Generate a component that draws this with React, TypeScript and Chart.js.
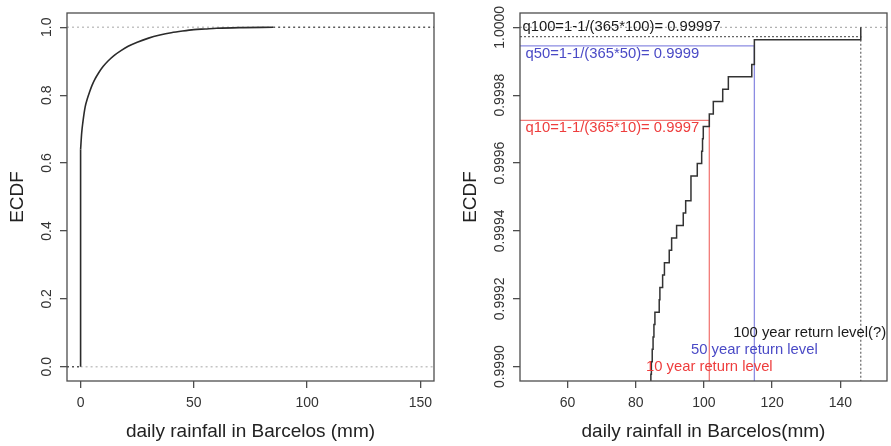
import React, { useEffect, useRef } from "react";
import { Chart, registerables } from "chart.js";
Chart.register(...registerables);

// ---------- Left panel: ECDF of all daily rainfall (mm) ----------
const leftRain = [0, 0.5, 1, 2, 3, 4, 5, 6, 8, 10, 12, 15, 18, 21, 25, 30, 35, 40, 45, 50, 55, 60, 70, 85];
const leftEcdf = [0.64, 0.69, 0.72, 0.765, 0.79, 0.81, 0.828, 0.843, 0.866, 0.885, 0.9, 0.918, 0.932, 0.944, 0.956, 0.968, 0.977, 0.984, 0.989, 0.993, 0.995, 0.997, 0.999, 1.0];
const leftXTicks = [0, 50, 100, 150];
const leftYTicks = [0, 0.2, 0.4, 0.6, 0.8, 1.0];
const leftYTickLabels = ["0.0", "0.2", "0.4", "0.6", "0.8", "1.0"];
const leftXTitle = "daily rainfall in Barcelos (mm)";

// ---------- Right panel: upper tail of the ECDF ----------
const nDays = 27400;
const extremes = [146.0, 114.8, 114.8, 114.04, 107.17, 105.52, 102.76, 101.59, 99.82, 99.6, 99.35, 98.06, 96.21, 96.21, 94.66, 93.95, 92.0, 90.54, 89.84, 88.43, 87.9, 87.1, 86.9, 85.64, 85.35, 85.1, 84.85, 84.6, 84.45];
const returnPeriods = [10, 50, 100];
const rightXTicks = [60, 80, 100, 120, 140];
const rightYTicks = [0.999, 0.9992, 0.9994, 0.9996, 0.9998, 1.0];
const rightYTickLabels = ["0.9990", "0.9992", "0.9994", "0.9996", "0.9998", "1.0000"];
const rightXTitle = "daily rainfall in Barcelos(mm)";
const qLabels = ["q10=1-1/(365*10)= 0.9997", "q50=1-1/(365*50)= 0.9999", "q100=1-1/(365*100)= 0.99997"];
const rlLabels = ["10 year return level", "50 year return level", "100 year return level(?)"];

const FONT = "'Liberation Sans', Arial, Helvetica, sans-serif";
const RED = "#ee3d3d";
const BLUE = "#4a4ac6";
const RED_LINE = "#f27b78";
const BLUE_LINE = "#8c8ce2";

const ecdfAt = (x: number) => 1 - extremes.filter((o) => o > x).length / nDays;
const quantile = (p: number) => {
  const xs = [...new Set(extremes)].sort((a, b) => a - b);
  return xs.find((x) => ecdfAt(x) >= p) as number;
};

type Note = { text: string; x: number; y: number; color: string; align: CanvasTextAlign };

function framePlugin(yTicks: number[], yLabels: string[], notes: Note[]) {
  return {
    id: "frame",
    afterDraw(chart: any) {
      const { ctx, chartArea: a } = chart;
      const xs = chart.scales.x;
      const ys = chart.scales.y;
      ctx.save();
      ctx.strokeStyle = "#4d4d4d";
      ctx.lineWidth = 1.3;
      ctx.strokeRect(a.left, a.top, a.right - a.left, a.bottom - a.top);
      ctx.fillStyle = "#333";
      ctx.font = `14px ${FONT}`;
      ctx.textAlign = "center";
      ctx.textBaseline = "middle";
      yTicks.forEach((v, i) => {
        const py = ys.getPixelForValue(v);
        ctx.save();
        ctx.translate(a.left - 20, py);
        ctx.rotate(-Math.PI / 2);
        ctx.fillText(yLabels[i], 0, 0);
        ctx.restore();
      });
      ctx.font = `14.8px ${FONT}`;
      notes.forEach((n) => {
        ctx.fillStyle = n.color;
        ctx.textAlign = n.align;
        ctx.fillText(n.text, xs.getPixelForValue(n.x), ys.getPixelForValue(n.y));
      });
      ctx.restore();
    },
  };
}

function axes(opts: {
  xMin: number; xMax: number; yMin: number; yMax: number;
  xTicks: number[]; yTicks: number[]; xTitle: string; yAxisWidth: number; yTitlePad: number;
}) {
  const grid = { drawOnChartArea: false, drawTicks: true, tickLength: 7, color: "#4d4d4d", lineWidth: 1.3 };
  return {
    x: {
      type: "linear",
      min: opts.xMin,
      max: opts.xMax,
      afterBuildTicks: (s: any) => { s.ticks = opts.xTicks.map((v) => ({ value: v })); },
      afterFit: (s: any) => { s.height = 65; },
      grid,
      border: { display: false },
      ticks: { color: "#333", font: { family: FONT, size: 14 }, padding: 7, maxRotation: 0, autoSkip: false, callback: (v: any) => String(v) },
      title: { display: true, text: opts.xTitle, color: "#222", font: { family: FONT, size: 19, lineHeight: 1 }, padding: { top: 0, bottom: 5 } },
    },
    y: {
      type: "linear",
      min: opts.yMin,
      max: opts.yMax,
      afterBuildTicks: (s: any) => { s.ticks = opts.yTicks.map((v) => ({ value: v })); },
      afterFit: (s: any) => { s.width = opts.yAxisWidth; },
      grid,
      border: { display: false },
      ticks: { display: false },
      title: { display: true, text: "ECDF", color: "#222", font: { family: FONT, size: 19, lineHeight: 1 }, padding: { top: opts.yTitlePad, bottom: 0 } },
    },
  };
}

const line = (data: { x: number; y: number }[], color: string, width: number, dash: number[] = [], extra: any = {}) => ({
  data, showLine: true, borderColor: color, borderWidth: width, borderDash: dash, pointRadius: 0, fill: false, ...extra,
});

export default function App() {
  const leftRef = useRef<HTMLCanvasElement>(null);
  const rightRef = useRef<HTMLCanvasElement>(null);

  useEffect(() => {
    document.body.style.margin = "0";
    // Left chart
    const lxMin = -6, lxMax = 156, lyMin = -0.042, lyMax = 1.042;
    const lastRain = leftRain[leftRain.length - 1];
    const left = new Chart(leftRef.current as HTMLCanvasElement, {
      type: "scatter",
      data: {
        datasets: [
          line(leftRain.map((x, i) => ({ x, y: leftEcdf[i] })), "#2b2b2b", 1.6, [], { cubicInterpolationMode: "monotone" }),
          line([{ x: 0, y: 0 }, { x: 0, y: leftEcdf[0] }], "#2b2b2b", 1.6),
          line([{ x: lxMin, y: 0 }, { x: 0, y: 0 }], "#555", 1.5, [2, 3]),
          line([{ x: lastRain, y: 1 }, { x: lxMax, y: 1 }], "#5a5a5a", 1.5, [2, 3]),
          line([{ x: 0, y: 0 }, { x: lxMax, y: 0 }], "#c4c4c4", 1.3, [2, 3]),
          line([{ x: lxMin, y: 1 }, { x: lastRain, y: 1 }], "#c4c4c4", 1.3, [2, 3]),
        ] as any,
      },
      options: {
        animation: false,
        responsive: false,
        devicePixelRatio: 1,
        layout: { padding: { top: 13, right: 11, left: 0, bottom: 0 } },
        plugins: { legend: { display: false }, tooltip: { enabled: false } },
        scales: axes({ xMin: lxMin, xMax: lxMax, yMin: lyMin, yMax: lyMax, xTicks: leftXTicks, yTicks: leftYTicks, xTitle: leftXTitle, yAxisWidth: 67, yTitlePad: 8.5 }) as any,
      },
      plugins: [framePlugin(leftYTicks, leftYTickLabels, [])],
    });

    // Right chart
    const rxMin = 46.08, rxMax = 153.69, ryMin = 0.9989579, ryMax = 1.0000421;
    const uniq = [...new Set(extremes)].sort((a, b) => a - b);
    const stepData = [
      { x: uniq[0], y: 1 - extremes.filter((o) => o >= uniq[0]).length / nDays },
      ...uniq.map((x) => ({ x, y: ecdfAt(x) })),
    ];
    const probs = returnPeriods.map((T) => 1 - 1 / (365 * T));
    const levels = probs.map(quantile);
    const qLine = (i: number) => [
      { x: rxMin, y: probs[i] },
      { x: levels[i], y: probs[i] },
      { x: levels[i], y: ryMin },
    ];
    const notes: Note[] = [
      { text: qLabels[2], x: 46.8, y: 1.0000025, color: "#1a1a1a", align: "left" },
      { text: qLabels[1], x: 47.7, y: 0.999922, color: BLUE, align: "left" },
      { text: qLabels[0], x: 47.7, y: 0.999703, color: RED, align: "left" },
      { text: rlLabels[2], x: 131, y: 0.9991, color: "#1a1a1a", align: "center" },
      { text: rlLabels[1], x: levels[1], y: 0.99905, color: BLUE, align: "center" },
      { text: rlLabels[0], x: levels[0], y: 0.999, color: RED, align: "center" },
    ];
    const right = new Chart(rightRef.current as HTMLCanvasElement, {
      type: "scatter",
      data: {
        datasets: [
          line(stepData, "#333", 1.5, [], { stepped: true }),
          line(qLine(0), RED_LINE, 1.3),
          line(qLine(1), BLUE_LINE, 1.3),
          line(qLine(2), "#666", 1.2, [2, 2]),
          line([{ x: rxMin, y: 1 }, { x: rxMax, y: 1 }], "#b0b0b0", 1.3, [2, 3]),
        ] as any,
      },
      options: {
        animation: false,
        responsive: false,
        devicePixelRatio: 1,
        layout: { padding: { top: 13, right: 4, left: 0, bottom: 0 } },
        plugins: { legend: { display: false }, tooltip: { enabled: false } },
        scales: axes({ xMin: rxMin, xMax: rxMax, yMin: ryMin, yMax: ryMax, xTicks: rightXTicks, yTicks: rightYTicks, xTitle: rightXTitle, yAxisWidth: 75, yTitlePad: 16.5 }) as any,
      },
      plugins: [framePlugin(rightYTicks, rightYTickLabels, notes)],
    });

    return () => {
      left.destroy();
      right.destroy();
    };
  }, []);

  return (
    <div style={{ position: "absolute", left: 0, top: 0, width: 891, height: 446, display: "flex", background: "#fff" }}>
      <canvas ref={leftRef} width={445} height={446} style={{ display: "block", width: 445, height: 446 }} />
      <canvas ref={rightRef} width={446} height={446} style={{ display: "block", width: 446, height: 446 }} />
    </div>
  );
}
